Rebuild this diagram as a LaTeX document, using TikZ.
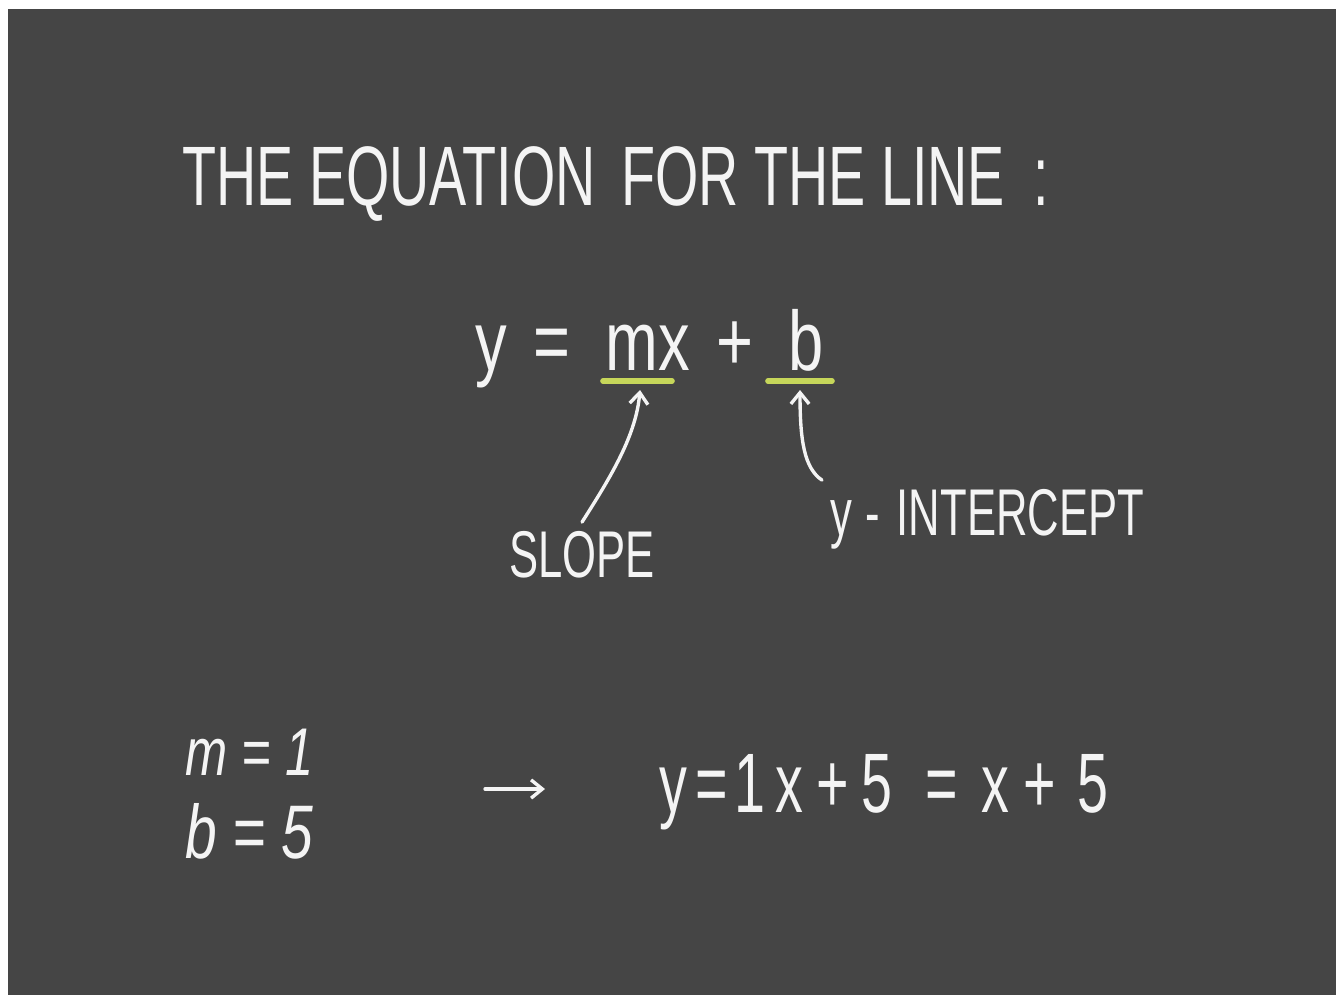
\documentclass[tikz,border=0pt]{standalone}
\usepackage{fontspec}
\newfontfamily\chalk[FakeStretch=0.75]{Liberation Sans}
\newfontfamily\chalktitle[FakeStretch=0.66]{Liberation Sans}
\usetikzlibrary{arrows.meta}
\definecolor{board}{HTML}{454545}
\definecolor{chalkwhite}{HTML}{F4F4F4}
\definecolor{marker}{HTML}{C6D65A}
\tikzset{
	titletext/.style={text=chalkwhite, inner sep=0pt, font={\chalktitle\fontsize{60}{72}\selectfont}},
	chalkbig/.style={text=chalkwhite, inner sep=0pt, font={\chalk\fontsize{60}{72}\selectfont}},
	chalknarrow/.style={text=chalkwhite, inner sep=0pt, font={\chalktitle\fontsize{60}{72}\selectfont}},
	chalklabel/.style={text=chalkwhite, inner sep=6pt, font={\chalktitle\fontsize{47}{56}\selectfont}},
	chalksmall/.style={text=chalkwhite, inner sep=0pt, font={\chalk\itshape\fontsize{48}{58}\selectfont}},
	chalkline/.style={draw=chalkwhite, line width=2.4pt, line cap=round},
	chalkarrow/.style={chalkline, -{Straight Barb[length=8pt,width=13pt]}},
	markerline/.style={draw=marker, line width=4pt, line cap=round}
}
\begin{document}
\begin{tikzpicture}[x=0.025cm, y=-0.025cm]
	\useasboundingbox (0,0) rectangle (1338,995);
	\fill[white] (0,0) rectangle (1338,995);
	\fill[board] (8,9) rectangle (1336,995);

	% heading
	\node[titletext, anchor=base west] (title) at (182,205) {THE EQUATION\hspace{0.12em} FOR THE LINE\hspace{0.15em} :};

	% y = mx + b
	\node[chalkbig, anchor=base] (ymain) at (491,370) {y};
	\node[chalkbig, anchor=base] (eqmain) at (552,370) {=};
	\node[chalkbig, anchor=base] (mx) at (648,370) {mx};
	\node[chalkbig, anchor=base] (plusmain) at (735,370) {+};
	\node[chalkbig, anchor=base] (bmain) at (806,370) {b};
	\draw[markerline] (603,381)--(672,381);
	\draw[markerline] (768,381)--(832,381);
	\coordinate (mxmark) at (640,390);
	\coordinate (bmark) at (800,390);

	\node[chalklabel, anchor=base] (slope) at (582,577) {SLOPE};
	\node[chalklabel, anchor=base west] (yint) at (822,535) {y\hspace{0.2em}-\hspace{0.25em}INTERCEPT};
	\draw[chalkarrow] (slope.north) .. controls (612,475) and (636,435) .. (mxmark);
	\draw[chalkarrow] (yint.north west) .. controls (804,468) and (800,440) .. (bmark);

	% example values
	\node[chalksmall, anchor=base west] (mval) at (185,775) {m = 1};
	\node[chalksmall, anchor=base west, font={\chalk\itshape\fontsize{54}{64}\selectfont}] (bval) at (185,858) {b = 5};
	\coordinate (implfrom) at (485,789);
	\coordinate (implto) at (545,789);
	\draw[chalkarrow] (implfrom)--(implto);
	\foreach \px/\piece [count=\i] in {673/y, 712/=, 750/1, 789/x, 833/+, 877/5, 942/=, 995/x, 1040/+, 1093/5}
		\node[chalknarrow, anchor=base] (res\i) at (\px,812) {\piece};
\end{tikzpicture}
\end{document}
